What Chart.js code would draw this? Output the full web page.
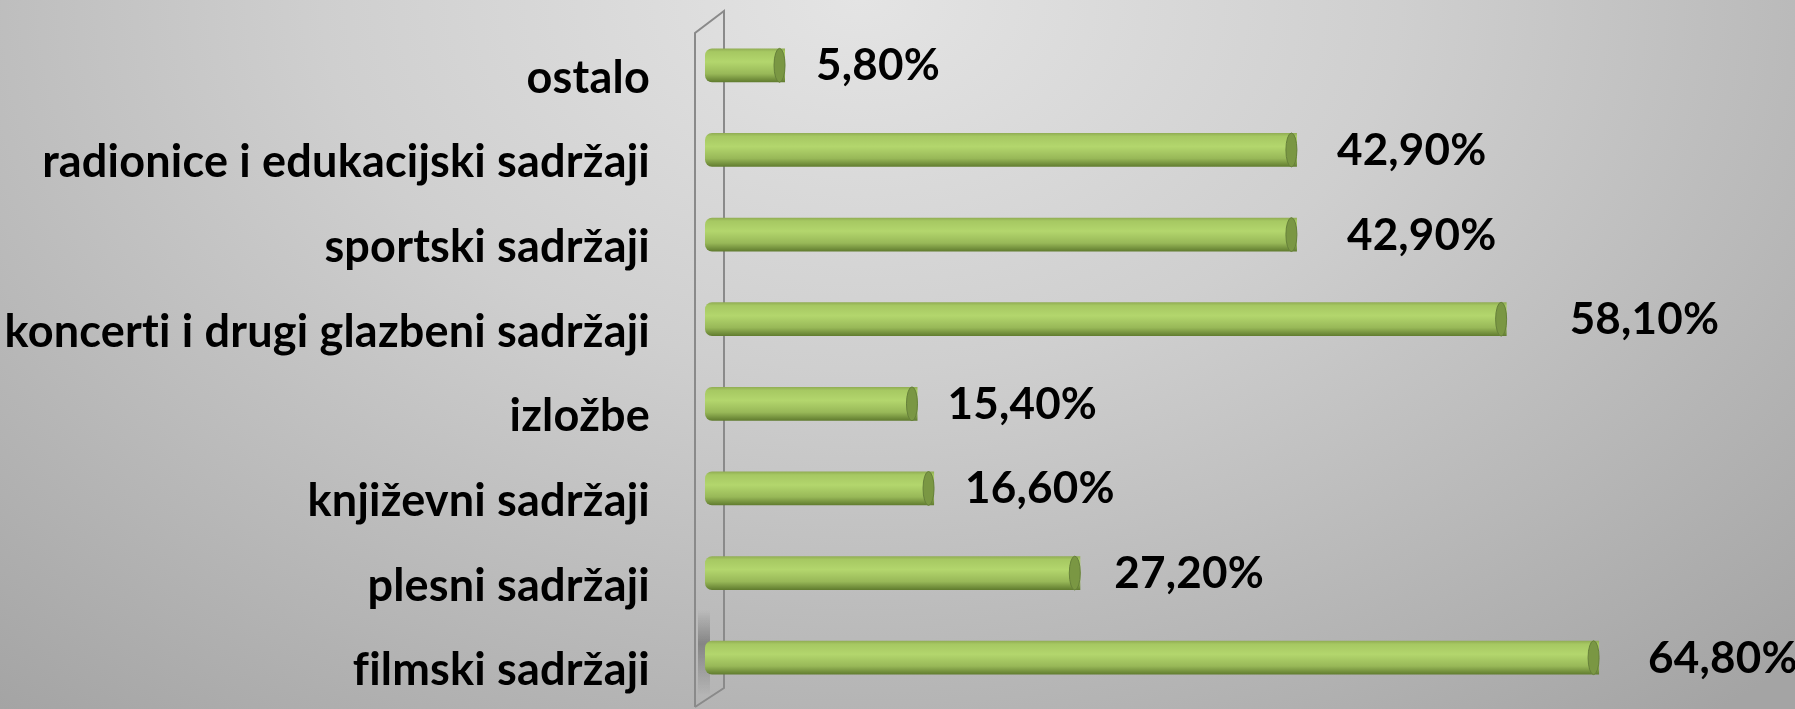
<!DOCTYPE html>
<html>
<head>
<meta charset="utf-8">
<script src="https://cdn.jsdelivr.net/npm/chart.js@4"></script>
<style>
  html, body { margin: 0; padding: 0; }
  body {
    width: 1795px; height: 709px; overflow: hidden;
    background: radial-gradient(ellipse 75% 130% at 48% 0%, #e4e4e4 0%, #cfcfcf 40%, #a4a4a4 100%);
  }
  #wrap { width: 1795px; height: 709px; }
</style>
</head>
<body>
<div id="wrap"><canvas id="interestChart"></canvas></div>
<script>
const categories = [
  'ostalo',
  'radionice i edukacijski sadržaji',
  'sportski sadržaji',
  'koncerti i drugi glazbeni sadržaji',
  'izložbe',
  'književni sadržaji',
  'plesni sadržaji',
  'filmski sadržaji'
];
const percentValues = [5.8, 42.9, 42.9, 58.1, 15.4, 16.6, 27.2, 64.8];
const valueLabels = ['5,80%', '42,90%', '42,90%', '58,10%', '15,40%', '16,60%', '27,20%', '64,80%'];

const labelFont = 'bold 44px Lato';
// gap between bar end and its value label, as placed in the original
const labelGap = [31, 40, 50, 63, 30, 31, 34, 49];

// cylinder shading across each bar
const barFill = (ctx) => {
  const chart = ctx.chart;
  const y = chart.scales.y;
  if (!y || ctx.dataIndex === undefined) return '#a8cc64';
  const cy = y.getPixelForValue(ctx.dataIndex);
  if (!isFinite(cy)) return '#a8cc64';
  const half = 17;
  const g = chart.ctx.createLinearGradient(0, cy - half, 0, cy + half);
  g.addColorStop(0, '#8fab52');
  g.addColorStop(0.1, '#a6c862');
  g.addColorStop(0.4, '#b3d66d');
  g.addColorStop(0.75, '#98b858');
  g.addColorStop(1, '#5f7a2e');
  return g;
};

const decorPlugin = {
  id: 'decor',
  beforeDraw(chart) {
    // a tiny letter spacing keeps the browser from joining "ti" into a ligature
    chart.ctx.letterSpacing = '0.2px';
  },
  beforeDatasetsDraw(chart) {
    const { ctx, chartArea } = chart;
    const fx = chartArea.left - 10, bx = chartArea.left + 19;
    ctx.save();
    // shadow at the bottom of the side wall
    const sg = ctx.createLinearGradient(0, 610, 0, 695);
    sg.addColorStop(0, 'rgba(70,70,70,0)');
    sg.addColorStop(0.4, 'rgba(70,70,70,0.45)');
    sg.addColorStop(1, 'rgba(70,70,70,0)');
    ctx.fillStyle = sg;
    ctx.fillRect(fx + 3, 610, 12, 85);
    // side wall outline
    ctx.strokeStyle = '#8a8a8a';
    ctx.lineWidth = 2;
    ctx.beginPath();
    ctx.moveTo(fx, 707);
    ctx.lineTo(fx, 33);
    ctx.lineTo(bx, 11);
    ctx.lineTo(bx, 688);
    ctx.lineTo(fx, 707);
    ctx.stroke();
    ctx.restore();
  },
  afterDatasetsDraw(chart) {
    const { ctx } = chart;
    const meta = chart.getDatasetMeta(0);
    ctx.save();
    meta.data.forEach((bar, i) => {
      const h = bar.height;
      // end cap of the cylinder
      ctx.beginPath();
      ctx.ellipse(bar.x - 5.5, bar.y, 5.5, h / 2, 0, 0, Math.PI * 2);
      ctx.fillStyle = '#7a9743';
      ctx.fill();
      ctx.strokeStyle = '#66803a';
      ctx.lineWidth = 1;
      ctx.stroke();
      // value label
      ctx.font = labelFont;
      ctx.fillStyle = '#000';
      ctx.textAlign = 'left';
      ctx.textBaseline = 'alphabetic';
      ctx.fillText(valueLabels[i], bar.x + labelGap[i], bar.y + 15);
    });
    ctx.restore();
  }
};

new Chart(document.getElementById('interestChart'), {
  type: 'bar',
  data: {
    labels: categories,
    datasets: [{
      data: percentValues,
      backgroundColor: barFill,
      borderWidth: 0,
      borderSkipped: false,
      borderRadius: { topLeft: 7, bottomLeft: 7, topRight: 0, bottomRight: 0 },
      categoryPercentage: 1,
      barPercentage: 0.4
    }]
  },
  options: {
    indexAxis: 'y',
    responsive: true,
    maintainAspectRatio: false,
    animation: false,
    layout: { padding: { top: 23, bottom: 9, left: 0, right: 0 } },
    plugins: {
      legend: { display: false },
      tooltip: { enabled: false }
    },
    scales: {
      x: {
        display: false,
        min: 0,
        max: 79
      },
      y: {
        grid: { display: false, drawTicks: false },
        border: { display: false },
        afterFit(scale) {
          scale.width = 705;
          scale.paddingTop = 0;
          scale.paddingBottom = 0;
        },
        ticks: {
          color: '#000',
          padding: 55,
          labelOffset: 13,
          font: { family: 'Lato', size: 45, weight: 'bold' }
        }
      }
    }
  },
  plugins: [decorPlugin]
});
</script>
</body>
</html>
